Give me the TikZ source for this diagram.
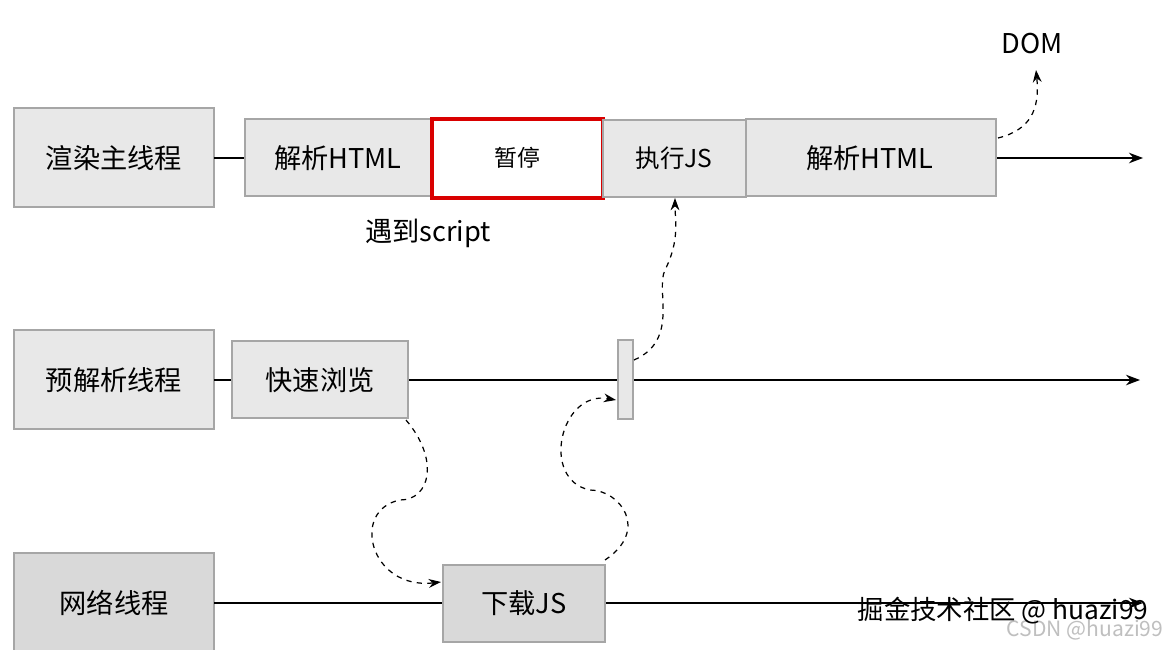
\documentclass[tikz,border=0pt]{standalone}
\usepackage{fontspec}
\setmainfont{Noto Sans CJK SC}
\usetikzlibrary{arrows.meta}
\begin{document}
\begin{tikzpicture}[x=0.02cm,y=-0.02cm,
  box/.style={draw=black!35,fill=black!9,line width=0.8pt},
  line/.style={line width=0.8pt,-{Stealth[length=8pt,width=6pt]}},
  dsh/.style={dashed,line width=0.7pt,-{Stealth[length=7pt,width=5pt]}},
  lbl/.style={font=\fontsize{15.5}{18}\selectfont}]
\useasboundingbox (0,0) rectangle (1165,649);
\fill[white] (0,0) rectangle (1165,649);
% left boxes
\draw[box] (14,108) rectangle (214,207); \node[lbl] (l1) at (114,158) {渲染主线程};
\draw[box] (14,330) rectangle (214,429); \node[lbl] (l2) at (114,380) {预解析线程};
\draw[box,fill=black!15] (14,553) rectangle (214,660); \node[lbl] (l3) at (114,603) {网络线程};
% lines
\draw[line] (214,158) -- (1143,158);
\draw[line] (214,380) -- (1140,380);
\draw[line] (214,603) -- (1143,603);
% main thread boxes
\draw[box] (245,119) rectangle (432,196); \node[lbl] (a) at (338,158) {解析HTML};
\draw[draw=red!85!black,fill=white,line width=2.5pt] (432,119) rectangle (603,198); \node[font=\fontsize{13}{16}\selectfont] (b) at (517,158) {暂停};
\draw[box] (603,120) rectangle (746,197); \node[font=\fontsize{14}{17}\selectfont] (c) at (674,158) {执行JS};
\draw[box] (746,119) rectangle (996,196); \node[lbl] (d) at (870,158) {解析HTML};
\node[lbl] (dom) at (1032,44) {DOM};
\node[lbl] (s) at (428,233) {遇到script};
% preparse
\draw[box] (232,341) rectangle (408,418); \node[lbl] (e) at (320,380) {快速浏览};
\draw[box] (618,340) rectangle (633,419);
% network
\draw[box,fill=black!15] (443,565) rectangle (605,642); \node[lbl] (f) at (524,603) {下载JS};
% dashed
\coordinate (p1) at (998,138); \coordinate (p2) at (1036,70);
\draw[dsh] (p1) .. controls (1030,130) and (1040,110) .. (p2);
\coordinate (q1) at (406,420); \coordinate (q2) at (441,582);
\draw[dsh] (q1) .. controls (440,460) and (430,500) .. (400,500) .. controls (350,510) and (370,590) .. (q2);
\coordinate (r1) at (605,560); \coordinate (r2) at (616,400);
\draw[dsh] (r1) .. controls (650,530) and (620,490) .. (590,490) .. controls (540,480) and (560,390) .. (r2);
\coordinate (t1) at (634,360); \coordinate (t2) at (675,198);
\draw[dsh] (t1) .. controls (680,340) and (655,290) .. (665,270) .. controls (680,240) and (675,220) .. (t2);
% watermark
\node[font=\fontsize{12}{14}\selectfont,text=black!25] (w2) at (1085,630) {CSDN @huazi99};
\node[font=\fontsize{15}{18}\selectfont] (w1) at (1003,611) {掘金技术社区 @ huazi99};
\end{tikzpicture}
\end{document}
